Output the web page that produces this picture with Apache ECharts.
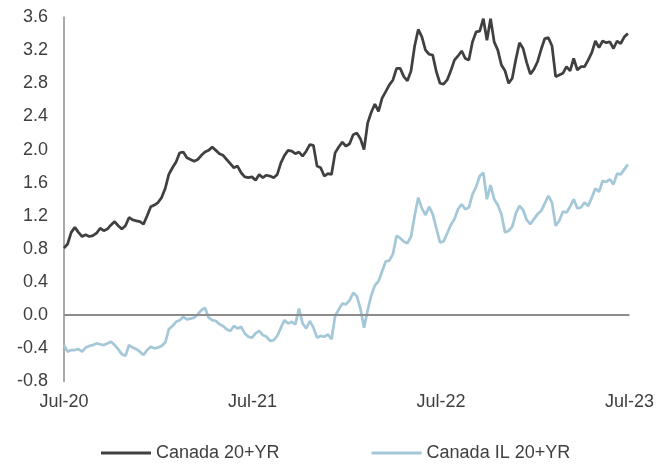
<!DOCTYPE html>
<html>
<head>
<meta charset="utf-8">
<script src="https://cdn.jsdelivr.net/npm/echarts@6/dist/echarts.min.js"></script>
<style>
  html, body { margin: 0; padding: 0; background: #ffffff; }
  #chart { width: 657px; height: 466px; }
</style>
</head>
<body>
<div id="chart"></div>
<script>
// Weekly observations starting 1 Jul 2020 (x measured in days from that date)
const startLabel = '2020-07-01';
const stepDays = 7;
const xTickLabels = ['Jul-20', 'Jul-21', 'Jul-22', 'Jul-23'];
const seriesNames = ['Canada 20+YR', 'Canada IL 20+YR'];

// Canada 20+ year nominal yield (%)
const canada20 = [
  0.81, 0.86, 1.00, 1.06, 1.00, 0.95, 0.97, 0.95, 0.96, 0.99,
  1.05, 1.02, 1.04, 1.09, 1.13, 1.08, 1.04, 1.08, 1.18, 1.15,
  1.14, 1.13, 1.10, 1.20, 1.31, 1.33, 1.36, 1.42, 1.53, 1.70,
  1.78, 1.85, 1.96, 1.97, 1.90, 1.88, 1.86, 1.88, 1.93, 1.97,
  1.99, 2.03, 1.99, 1.95, 1.93, 1.88, 1.83, 1.78, 1.80, 1.72,
  1.67, 1.66, 1.67, 1.63, 1.70, 1.66, 1.69, 1.68, 1.66, 1.70,
  1.84, 1.93, 1.99, 1.98, 1.95, 1.97, 1.92, 1.98, 2.06, 2.05,
  1.80, 1.78, 1.68, 1.71, 1.70, 1.96, 2.03, 2.09, 2.04, 2.07,
  2.18, 2.20, 2.13, 2.00, 2.32, 2.45, 2.55, 2.46, 2.62, 2.70,
  2.78, 2.84, 2.98, 2.98, 2.88, 2.83, 2.95, 3.25, 3.45, 3.36,
  3.20, 3.15, 3.14, 2.94, 2.80, 2.79, 2.84, 2.95, 3.08, 3.13,
  3.19, 3.10, 3.08, 3.30, 3.42, 3.43, 3.58, 3.32, 3.58, 3.30,
  3.20, 3.02, 2.95, 2.80, 2.86, 3.09, 3.29, 3.22, 3.05, 2.91,
  2.97, 3.06, 3.21, 3.34, 3.35, 3.25, 2.88, 2.90, 2.92, 3.00,
  2.95, 3.10, 2.96, 3.00, 3.00, 3.08, 3.17, 3.31, 3.23, 3.31,
  3.29, 3.30, 3.22, 3.31, 3.28, 3.36, 3.40
];

// Canada 20+ year inflation-linked (real) yield (%)
const canadaIL20 = [
  -0.36, -0.44, -0.42, -0.42, -0.41, -0.44, -0.39, -0.37, -0.36, -0.34,
  -0.35, -0.36, -0.34, -0.32, -0.36, -0.41, -0.47, -0.49, -0.36, -0.39,
  -0.41, -0.44, -0.48, -0.42, -0.38, -0.40, -0.39, -0.37, -0.33, -0.17,
  -0.13, -0.08, -0.06, -0.02, -0.05, -0.04, -0.03, 0.01, 0.06, 0.09,
  -0.03, -0.06, -0.07, -0.11, -0.13, -0.17, -0.19, -0.13, -0.16, -0.14,
  -0.22, -0.26, -0.27, -0.22, -0.19, -0.24, -0.26, -0.31, -0.30, -0.25,
  -0.15, -0.06, -0.10, -0.08, -0.11, 0.08, -0.10, -0.16, -0.07, -0.15,
  -0.27, -0.25, -0.26, -0.23, -0.29, -0.01, 0.07, 0.14, 0.13, 0.18,
  0.27, 0.23, 0.08, -0.15, 0.06, 0.24, 0.36, 0.41, 0.53, 0.65,
  0.66, 0.74, 0.96, 0.93, 0.89, 0.87, 0.95, 1.20, 1.42, 1.29,
  1.21, 1.31, 1.22, 1.05, 0.88, 0.89, 0.99, 1.09, 1.16, 1.28,
  1.34, 1.28, 1.30, 1.46, 1.55, 1.68, 1.72, 1.40, 1.57, 1.40,
  1.33, 1.22, 1.00, 1.02, 1.07, 1.23, 1.32, 1.27, 1.15, 1.10,
  1.16, 1.22, 1.26, 1.35, 1.44, 1.36, 1.08, 1.14, 1.25, 1.24,
  1.31, 1.40, 1.29, 1.30, 1.36, 1.32, 1.42, 1.53, 1.49, 1.62,
  1.61, 1.64, 1.58, 1.71, 1.70, 1.76, 1.82
];

const toPairs = (vals) => vals.map((v, i) => [i * stepDays, v]);
const textColor = '#404040';
const axisGray = '#8c8c8c';

const chart = echarts.init(document.getElementById('chart'), null, { renderer: 'canvas' });
chart.setOption({
  animation: false,
  backgroundColor: '#ffffff',
  textStyle: { fontFamily: 'Liberation Sans, Arial, sans-serif' },
  grid: { left: 64, right: 26, top: 17, bottom: 84.5, containLabel: false },
  legend: {
    left: 96,
    top: 439,
    itemGap: 92,
    itemWidth: 50,
    itemHeight: 3,
    icon: 'rect',
    textStyle: { color: textColor, fontSize: 18, fontFamily: 'Liberation Sans, Arial, sans-serif' },
    data: seriesNames
  },
  xAxis: {
    type: 'value',
    min: 0,
    max: 1095,
    interval: 365,
    axisLine: { show: false },
    axisTick: { show: false },
    splitLine: { show: false },
    axisLabel: {
      color: textColor,
      fontSize: 18,
      margin: 12,
      formatter: (v) => xTickLabels[Math.round(v / 365)] || ''
    }
  },
  yAxis: {
    type: 'value',
    min: -0.8,
    max: 3.6,
    interval: 0.4,
    axisLine: { show: true, onZero: false, lineStyle: { color: axisGray, width: 1.5 } },
    axisTick: { show: false },
    splitLine: { show: false },
    axisLabel: {
      color: textColor,
      fontSize: 18,
      margin: 16,
      formatter: (v) => v.toFixed(1)
    }
  },
  series: [
    {
      name: seriesNames[0],
      type: 'line',
      data: toPairs(canada20),
      showSymbol: false,
      symbol: 'none',
      lineStyle: { color: '#404040', width: 2.75 },
      itemStyle: { color: '#404040' },
      markLine: {
        silent: true,
        symbol: ['none', 'none'],
        label: { show: false },
        lineStyle: { color: axisGray, width: 2, type: 'solid' },
        data: [{ yAxis: 0 }]
      }
    },
    {
      name: seriesNames[1],
      type: 'line',
      data: toPairs(canadaIL20),
      showSymbol: false,
      symbol: 'none',
      lineStyle: { color: '#a5c8d8', width: 2.75 },
      itemStyle: { color: '#a5c8d8' }
    }
  ]
});
</script>
</body>
</html>
